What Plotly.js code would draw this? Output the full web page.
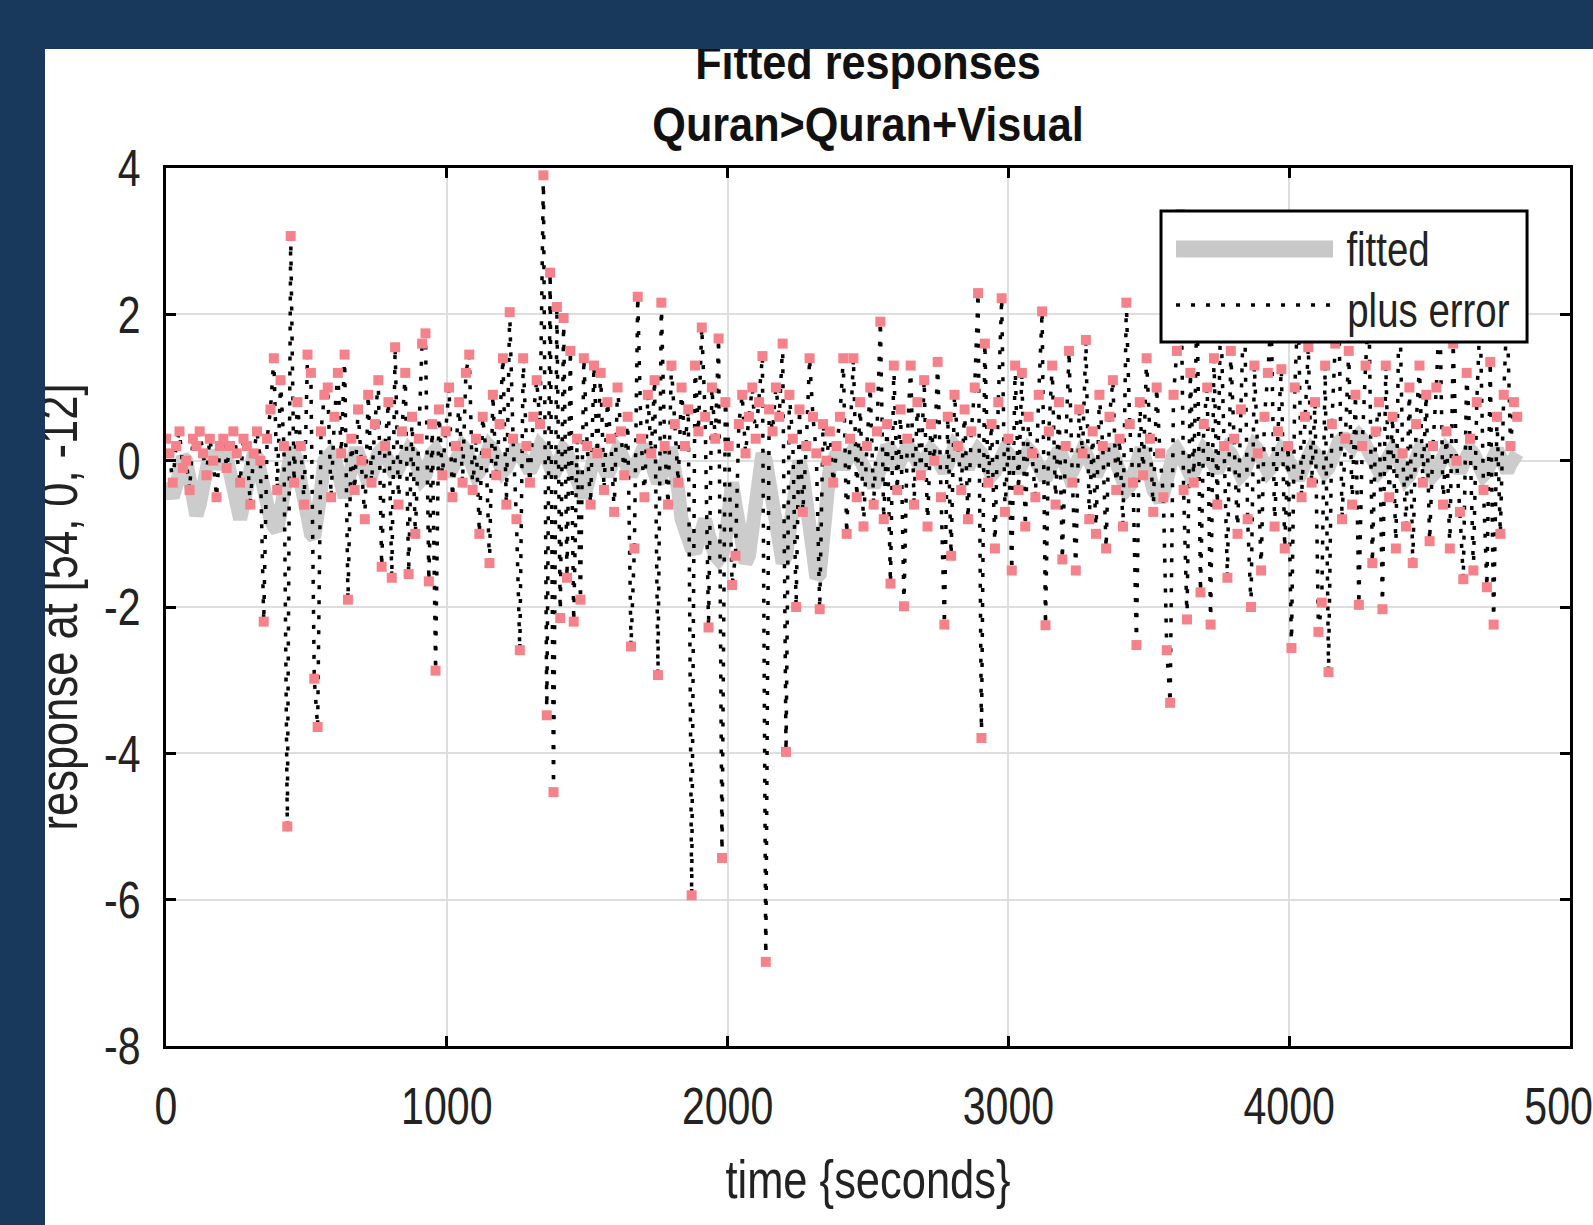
<!DOCTYPE html>
<html><head><meta charset="utf-8">
<script src="https://cdn.plot.ly/plotly-3.0.1.min.js"></script>
<style>
html,body{margin:0;padding:0;background:#18385c;overflow:hidden}
#chart{position:absolute;left:0;top:0;width:1593px;height:1225px}
.band{position:absolute;background:#18385c;z-index:10}
</style></head><body>
<div id="chart"></div>
<div class="band" style="left:0;top:0;width:1593px;height:49px"></div>
<div class="band" style="left:0;top:0;width:45px;height:1225px"></div>
<script>
// time of each scan (seconds)
const time = [
0,12,24,36,48,60,72,84,96,108,120,132,144,156,168,180,192,204,216,228,
240,252,264,276,288,300,312,324,336,348,360,372,384,396,408,420,432,444,456,468,
480,492,504,516,528,540,552,564,576,588,600,612,624,636,648,660,672,684,696,708,
720,732,744,756,768,780,792,804,816,828,840,852,864,876,888,900,912,924,936,948,
960,972,984,996,1008,1020,1032,1044,1056,1068,1080,1092,1104,1116,1128,1140,1152,1164,1176,1188,
1200,1212,1224,1236,1248,1260,1272,1284,1296,1308,1320,1332,1344,1356,1368,1380,1392,1404,1416,1428,
1440,1452,1464,1476,1488,1500,1512,1524,1536,1548,1560,1572,1584,1596,1608,1620,1632,1644,1656,1668,
1680,1692,1704,1716,1728,1740,1752,1764,1776,1788,1800,1812,1824,1836,1848,1860,1872,1884,1896,1908,
1920,1932,1944,1956,1968,1980,1992,2004,2016,2028,2040,2052,2064,2076,2088,2100,2112,2124,2136,2148,
2160,2172,2184,2196,2208,2220,2232,2244,2256,2268,2280,2292,2304,2316,2328,2340,2352,2364,2376,2388,
2400,2412,2424,2436,2448,2460,2472,2484,2496,2508,2520,2532,2544,2556,2568,2580,2592,2604,2616,2628,
2640,2652,2664,2676,2688,2700,2712,2724,2736,2748,2760,2772,2784,2796,2808,2820,2832,2844,2856,2868,
2880,2892,2904,2916,2928,2940,2952,2964,2976,2988,3000,3012,3024,3036,3048,3060,3072,3084,3096,3108,
3120,3132,3144,3156,3168,3180,3192,3204,3216,3228,3240,3252,3264,3276,3288,3300,3312,3324,3336,3348,
3360,3372,3384,3396,3408,3420,3432,3444,3456,3468,3480,3492,3504,3516,3528,3540,3552,3564,3576,3588,
3600,3612,3624,3636,3648,3660,3672,3684,3696,3708,3720,3732,3744,3756,3768,3780,3792,3804,3816,3828,
3840,3852,3864,3876,3888,3900,3912,3924,3936,3948,3960,3972,3984,3996,4008,4020,4032,4044,4056,4068,
4080,4092,4104,4116,4128,4140,4152,4164,4176,4188,4200,4212,4224,4236,4248,4260,4272,4284,4296,4308,
4320,4332,4344,4356,4368,4380,4392,4404,4416,4428,4440,4452,4464,4476,4488,4500,4512,4524,4536,4548,
4560,4572,4584,4596,4608,4620,4632,4644,4656,4668,4680,4692,4704,4716,4728,4740,4752,4764,4776,4788,
4800,4812
];

// fitted response
const fitted = [
-0.3,-0.45,-0.5,-0.35,-0.1,0.05,0.0,-0.3,-0.6,-0.75,
-0.6,-0.3,0.0,0.1,0.05,-0.1,0.0,0.1,0.05,-0.2,
-0.5,-0.75,-0.8,-0.6,-0.3,0.0,0.1,0.05,-0.2,-0.4,
-0.6,-0.8,-0.9,-0.95,-0.7,-0.3,0.0,0.1,0.1,0.0,
-0.3,-0.6,-0.9,-1.0,-1.05,-0.8,-0.4,0.0,0.1,0.1,
0.05,-0.2,-0.4,-0.5,-0.3,0.0,0.1,0.1,0.0,-0.2,
-0.3,-0.2,0.0,0.1,0.15,0.1,0.0,-0.1,-0.2,-0.1,
0.0,0.1,0.15,0.1,0.0,-0.15,-0.25,-0.2,0.0,0.1,
0.15,0.1,0.0,-0.1,-0.2,-0.1,0.0,0.1,0.2,0.15,
0.05,-0.1,-0.2,-0.15,0.0,0.1,0.2,0.15,0.05,-0.05,
-0.15,-0.1,0.05,0.15,0.2,0.1,0.0,-0.1,-0.15,-0.05,
0.1,0.2,0.15,0.0,-0.1,-0.2,-0.1,0.05,0.15,0.1,
0.0,-0.15,-0.25,-0.4,-0.5,-0.35,-0.1,0.05,0.1,0.05,
-0.1,-0.2,-0.1,0.05,0.15,0.1,0.0,-0.1,-0.2,-0.1,
0.05,0.15,0.2,0.1,-0.05,-0.2,-0.3,-0.2,0.0,0.1,
0.1,-0.1,-0.4,-0.8,-1.0,-1.1,-1.2,-1.25,-1.1,-0.9,
-0.8,-1.0,-1.2,-1.3,-1.35,-1.3,-1.1,-0.7,-0.3,-0.6,
-1.0,-1.3,-1.4,-1.3,-0.9,-0.4,0.0,0.1,0.0,-0.3,
-0.7,-1.1,-1.35,-1.4,-1.3,-0.9,-0.4,-0.1,0.0,-0.2,
-0.6,-1.1,-1.45,-1.6,-1.55,-1.2,-0.6,-0.1,0.1,0.1,
0.0,-0.1,0.0,0.1,0.15,0.1,0.0,-0.1,-0.2,-0.3,
-0.35,-0.25,-0.05,0.1,0.2,0.15,0.0,-0.1,0.0,0.1,
0.2,0.15,0.05,-0.05,-0.1,0.0,0.1,0.15,0.1,0.0,
-0.1,-0.15,-0.05,0.1,0.2,0.15,0.05,-0.05,-0.1,0.0,
0.1,0.15,0.1,0.0,-0.1,-0.2,-0.15,0.0,0.1,0.15,
0.1,0.0,-0.1,-0.15,-0.05,0.1,0.15,0.1,0.0,-0.1,
-0.2,-0.25,-0.15,0.0,0.1,0.15,0.05,-0.1,-0.2,-0.15,
0.0,0.1,0.15,0.1,0.0,-0.1,-0.2,-0.1,0.05,0.15,
0.2,0.1,0.0,-0.15,-0.3,-0.4,-0.35,-0.2,0.0,0.1,
0.1,0.0,-0.2,-0.4,-0.5,-0.55,-0.45,-0.25,0.0,0.1,
0.15,0.1,0.0,-0.1,-0.2,-0.15,0.0,0.1,0.15,0.1,
0.0,-0.1,-0.15,-0.05,0.1,0.15,0.1,0.0,-0.1,-0.2,
-0.15,0.0,0.1,0.2,0.15,0.05,-0.05,-0.15,-0.1,0.0,
0.1,0.15,0.1,0.0,-0.1,-0.2,-0.25,-0.15,0.0,0.1,
0.15,0.1,0.0,-0.1,-0.15,-0.1,0.05,0.15,0.25,0.3,
0.3,0.25,0.2,0.3,0.35,0.3,0.2,0.1,0.0,-0.1,
-0.15,-0.1,0.0,0.1,0.15,0.1,0.0,-0.15,-0.25,-0.2,
-0.05,0.1,0.15,0.1,0.0,-0.1,-0.2,-0.15,0.0,0.1,
0.15,0.1,0.0,-0.1,-0.15,-0.05,0.1,0.15,0.1,0.0,
-0.1,-0.2,-0.15,0.0,0.1,0.15,0.05,-0.1,-0.15,-0.05,
0.05,0.1
];

// fitted plus error (observed)
const plusError = [
0.3,0.1,-0.3,0.2,0.4,-0.1,0.0,-0.4,0.3,0.2,
0.4,0.1,-0.2,0.3,0.0,-0.5,0.2,0.3,-0.1,0.2,
0.4,0.1,-0.3,0.3,0.2,-0.6,0.1,0.4,0.0,-2.2,
0.3,0.7,1.4,-0.4,1.1,0.2,-5.0,3.07,-0.3,0.8,
0.2,-0.6,1.45,1.2,-2.98,-3.64,0.4,0.9,1.0,-0.5,
0.6,1.2,0.1,1.45,-1.9,0.3,-0.4,0.7,0.0,-0.8,
0.9,-0.3,0.5,1.1,-1.45,0.2,0.8,-1.6,1.55,-0.6,
0.4,1.2,-1.55,0.6,-1.0,0.3,1.6,1.74,-1.65,0.5,
-2.87,0.7,-0.2,0.4,1.0,-0.5,0.2,0.8,-0.3,1.2,
1.45,-0.4,0.3,-1.0,0.6,0.1,-1.4,0.9,-0.2,0.5,
1.4,-0.6,2.03,0.3,-0.8,-2.59,1.4,0.2,-0.3,0.6,
1.1,0.5,3.9,-3.48,2.57,-4.53,2.1,-2.15,1.95,-1.6,
1.5,-2.2,0.3,-1.9,1.4,0.2,-0.6,1.3,0.1,1.2,
-0.4,0.8,0.3,-0.7,1.0,0.4,-0.2,0.6,-2.54,-1.2,
2.24,0.3,-0.5,0.9,0.1,1.1,-2.93,2.16,0.2,-0.6,
1.3,0.5,-0.3,1.0,0.2,0.7,-5.94,1.3,0.4,1.82,
0.6,-2.28,1.0,0.3,1.67,-5.43,0.8,0.2,-1.7,-1.3,
0.5,0.9,0.1,0.6,1.0,0.3,0.8,1.43,-6.85,0.7,
0.4,1.0,0.6,1.6,-3.98,0.9,0.3,-2.0,0.7,-0.7,
0.2,1.4,0.6,0.1,-2.03,0.5,0.0,0.4,-0.3,0.2,
0.6,1.4,-1.0,0.3,1.4,-0.5,0.8,-0.9,0.2,1.0,
-0.6,0.4,1.9,-0.8,0.5,-1.68,1.3,-0.4,0.7,-1.99,
0.3,1.3,-0.6,0.8,-0.2,1.1,-0.9,0.5,0.0,1.35,
-0.5,-2.24,0.6,-1.3,0.9,0.2,-0.4,0.7,-0.8,0.4,
1.0,2.29,-3.79,1.6,-0.3,0.5,-1.2,0.8,2.22,-0.7,
0.3,-1.5,1.3,-0.4,1.2,-0.9,0.6,0.1,-0.5,0.9,
2.04,-2.25,0.4,1.3,-0.6,0.8,-1.35,0.2,1.5,-0.3,
-1.5,0.7,0.1,1.65,-0.8,0.4,-1.0,0.9,0.2,-1.2,
0.6,1.1,-0.4,0.3,-0.9,2.16,0.5,-0.3,-2.52,0.8,
-0.2,1.4,0.3,-0.7,1.0,0.1,-0.5,-2.59,-3.31,0.9,
1.5,3.37,-0.4,-2.17,1.2,-0.3,2.3,-1.8,0.5,1.0,
-2.24,1.4,-0.6,2.1,0.2,-1.6,1.5,0.3,-1.0,0.7,
2.4,-0.8,-2.0,1.3,0.1,-1.5,0.6,1.2,2.0,-0.9,
0.4,1.25,-1.2,0.2,-2.56,1.0,2.2,-0.5,0.6,1.55,
-0.3,0.8,-2.34,-1.94,1.3,-2.89,0.5,1.6,2.3,-0.8,
0.3,1.5,-0.6,0.9,-1.97,0.2,1.3,2.1,-1.4,0.4,
0.8,-2.03,1.3,-0.5,0.6,-1.2,2.5,0.1,-0.9,1.0,
-1.4,0.5,1.3,-0.3,0.9,-1.1,0.2,1.0,2.2,-0.6,
0.4,-1.2,1.6,0.0,-0.7,-1.62,1.2,0.3,-1.5,0.8,
2.0,-0.4,-1.73,1.35,-2.24,0.6,-1.0,0.9,2.1,0.2,
0.8,0.6
];

const xTickVals = [0,1000,2000,3000,4000,5000];
const xTickText = ['0','1000','2000','3000','4000','5000'];
const yTickVals = [-8,-6,-4,-2,0,2,4];
const yTickText = ['-8','-6','-4','-2','0','2','4'];

const chartTitle = 'Fitted responses<br>Quran>Quran+Visual';
const xTitle = 'time {seconds}';
const yTitle = 'response at [54, 0, -12]';
const legendNames = ['fitted','plus error'];

const SANS = '"Liberation Sans", Arial, sans-serif';

const traces = [
  {x: time, y: fitted, mode:'lines', name: legendNames[0], line:{color:'#cccccc', width:14}, hoverinfo:'skip', showlegend:false},
  {x: time, y: plusError, mode:'lines', name: legendNames[1], line:{color:'#000000', width:3.5, dash:'4px,11px'}, hoverinfo:'skip', showlegend:false},
  {x: time, y: plusError, mode:'markers', name: legendNames[1], marker:{color:'#f5828a', size:10, symbol:'square'}, hoverinfo:'skip', showlegend:false}
];

const axisCommon = {
  showgrid:true, gridcolor:'#dedede', gridwidth:2, zeroline:false,
  showline:true, linecolor:'#000', linewidth:3, mirror:'ticks',
  ticks:'inside', ticklen:10, tickwidth:3, tickcolor:'#000',
  tickfont:{family:SANS, size:52, color:'#222'}, automargin:false,
  ticklabeloverflow:'allow'
};

const layout = {
  width:1593, height:1225,
  margin:{l:166, r:23, t:168, b:179},
  paper_bgcolor:'#ffffff', plot_bgcolor:'#ffffff',
  showlegend:false,
  title:{text: chartTitle, font:{family:SANS, size:48, color:'#111', weight:'bold'}, x:0.5, xref:'paper', xanchor:'center', y:1-79/1225, yref:'container', yanchor:'top'},
  xaxis: Object.assign({}, axisCommon, {range:[0,5000], tickmode:'array', tickvals:xTickVals, ticktext:xTickText, ticklabelstandoff:13,
    title:{text:xTitle, font:{family:SANS, size:53, color:'#222'}, standoff:27}}),
  yaxis: Object.assign({}, axisCommon, {range:[-8,4], tickmode:'array', tickvals:yTickVals, ticktext:yTickText, ticklabelstandoff:12,
    title:{text:yTitle, font:{family:SANS, size:53, color:'#222'}, standoff:0}}),
  shapes:[
    {type:'rect', xref:'paper', yref:'paper', x0:0.7087, x1:0.9694, y0:0.8018, y1:0.9510, fillcolor:'#ffffff', line:{color:'#000', width:3}, layer:'above'},
    {type:'line', xref:'paper', yref:'paper', x0:0.7194, x1:0.8312, y0:0.9077, y1:0.9077, line:{color:'#c8c8c8', width:17}, layer:'above'},
    {type:'line', xref:'paper', yref:'paper', x0:0.7194, x1:0.8312, y0:0.844, y1:0.844, line:{color:'#000', width:3.5, dash:'4px,11px'}, layer:'above'}
  ],
  annotations:[
    {xref:'paper', yref:'paper', x:0.8704, y:0.9077, xanchor:'center', yanchor:'middle', text:legendNames[0], showarrow:false, font:{family:SANS, size:48, color:'#222'}},
    {xref:'paper', yref:'paper', x:0.8989, y:0.838, xanchor:'center', yanchor:'middle', text:legendNames[1], showarrow:false, font:{family:SANS, size:48, color:'#222'}}
  ]
};

// MATLAB-style narrow lettering: compress glyphs horizontally, keeping the text as real text
function condense(root, selector, factor) {
  root.querySelectorAll(selector).forEach(function (t) {
    const w = t.getComputedTextLength();
    if (w > 0) {
      t.setAttribute('textLength', (w * factor).toFixed(1));
      t.setAttribute('lengthAdjust', 'spacingAndGlyphs');
    }
  });
}

Plotly.newPlot('chart', traces, layout, {displayModeBar:false, staticPlot:true}).then(function (gd) {
  condense(gd, '.xtick text, .ytick text', 0.79);
  condense(gd, '.g-xtitle text, .g-ytitle text', 0.82);
  condense(gd, '.annotation-text', 0.8);
  condense(gd, '.gtitle tspan.line', 0.9);
});
</script>
</body></html>
